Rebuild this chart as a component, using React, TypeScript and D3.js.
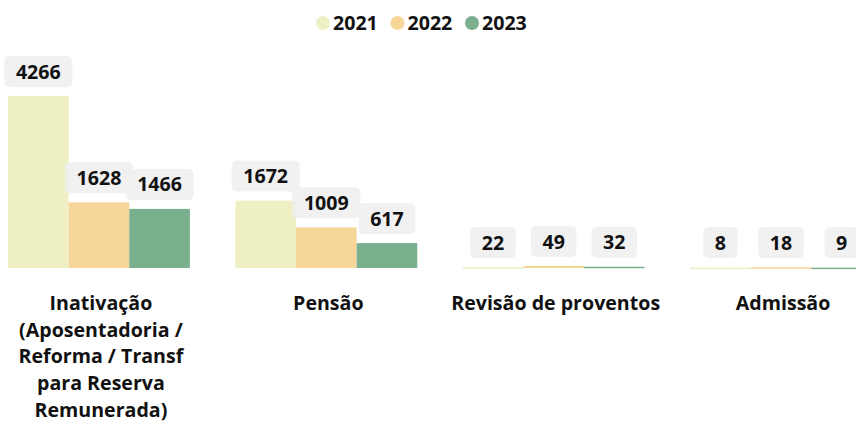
import React from "react";
import * as d3 from "d3";

const categories = [
  "Inativação (Aposentadoria / Reforma / Transf para Reserva Remunerada)",
  "Pensão",
  "Revisão de proventos",
  "Admissão",
];
const categoryLines = [
  ["Inativação", "(Aposentadoria /", "Reforma / Transf", "para Reserva", "Remunerada)"],
  ["Pensão"],
  ["Revisão de proventos"],
  ["Admissão"],
];
const seriesNames = ["2021", "2022", "2023"];
const values2021 = [4266, 1672, 22, 8];
const values2022 = [1628, 1009, 49, 18];
const values2023 = [1466, 617, 32, 9];
const seriesValues = [values2021, values2022, values2023];
const colors = ["#EEF0C4", "#F6D699", "#7AB08E"];

const W = 856;
const H = 424;
const FONT = "'Open Sans', 'Noto Sans', sans-serif";

export default function App() {
  const baseY = 268;
  const x0 = d3
    .scaleBand<string>()
    .domain(categories)
    .range([8, 872])
    .paddingInner(0.2)
    .paddingOuter(0);
  const x1 = d3.scaleBand<string>().domain(seriesNames).range([0, x0.bandwidth()]).padding(0);
  const y = d3.scaleLinear().domain([0, 4266]).range([baseY, 96]);

  const fs = 19.6;
  const charW = (s: string) => s.length * fs * 0.575;

  return (
    <svg
      width={W}
      height={H}
      style={{ position: "absolute", left: 0, top: 0, background: "#fff" }}
      fontFamily={FONT}
    >
      {/* legend */}
      {seriesNames.map((s, i) => {
        const cx = 323 + i * 74.5;
        return (
          <g key={s}>
            <circle cx={cx} cy={23} r={7} fill={colors[i]} />
            <text x={cx + 10} y={23} dy="0.35em" fontSize={fs} fontWeight={700} fill="#111">
              {s}
            </text>
          </g>
        );
      })}
      {/* bars */}
      {categories.map((c, ci) => (
        <g key={c} transform={`translate(${x0(c)},0)`}>
          {seriesNames.map((s, si) => {
            const v = seriesValues[si][ci];
            const bx = x1(s)!;
            const bw = x1.bandwidth();
            const top = y(v);
            return (
              <rect key={s} x={bx} y={top} width={bw} height={Math.max(baseY - top, 1.5)} fill={colors[si]} />
            );
          })}
        </g>
      ))}
      {/* value labels */}
      {categories.map((c, ci) => (
        <g key={c + "l"} transform={`translate(${x0(c)},0)`}>
          {seriesNames.map((s, si) => {
            const v = seriesValues[si][ci];
            const label = String(v);
            const cx = x1(s)! + x1.bandwidth() / 2;
            const top = Math.min(y(v), baseY - 1);
            const tw = charW(label);
            const bw = tw + 23;
            const bh = 31;
            const by = top - 9 - bh;
            return (
              <g key={s}>
                <rect x={cx - bw / 2} y={by} width={bw} height={bh} rx={5} fill="#EFEFEF" fillOpacity={0.9} />
                <text x={cx} y={by + bh / 2} dy="0.36em" textAnchor="middle" fontSize={fs} fontWeight={700} fill="#111">
                  {label}
                </text>
              </g>
            );
          })}
        </g>
      ))}
      {/* category labels */}
      {categories.map((c, ci) => (
        <text
          key={c + "c"}
          x={x0(c)! + x0.bandwidth() / 2 + 2}
          textAnchor="middle"
          fontSize={fs}
          fontWeight={700}
          fill="#111"
        >
          {categoryLines[ci].map((ln, li) => (
            <tspan key={li} x={x0(c)! + x0.bandwidth() / 2 + 2} y={303 + li * 26.7} dy="0.35em">
              {ln}
            </tspan>
          ))}
        </text>
      ))}
    </svg>
  );
}
